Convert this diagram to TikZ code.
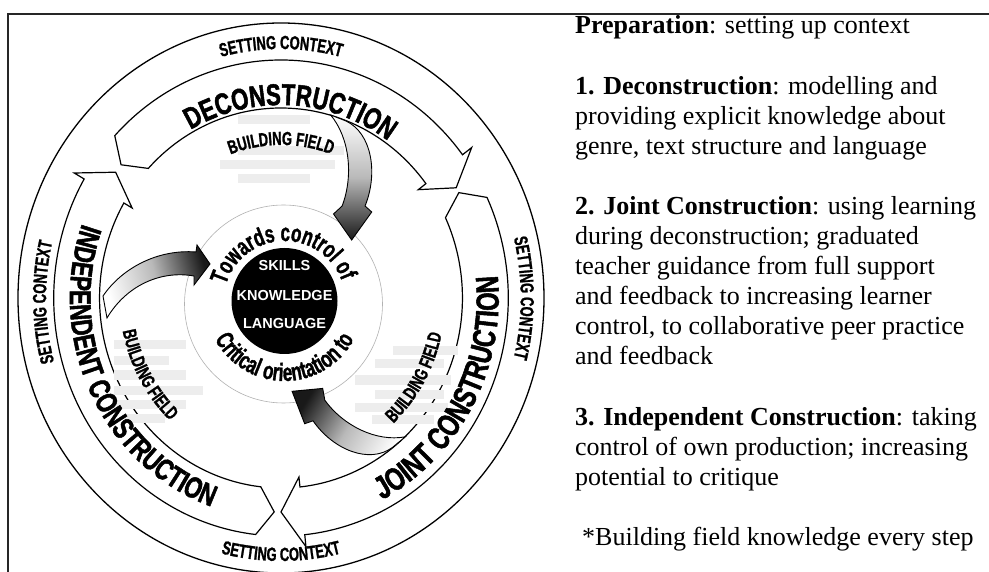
\documentclass[tikz,border=0pt]{standalone}
\usepackage{fontspec}
\setmainfont{Liberation Serif}
\newfontfamily\condA[FakeStretch=0.68,FakeBold=1.2]{Liberation Sans Bold}
\newfontfamily\condB[FakeStretch=0.74,FakeBold=1.6]{Liberation Sans Bold}
\newfontfamily\hsans{Liberation Sans Bold}
\usetikzlibrary{decorations.text}
\tikzset{
 frame/.style={line width=1.8pt, black!85},
 ring/.style={line width=1.3pt},
 band/.style={draw=black, line width=1.2pt, fill=white, line join=miter},
 grad/.style={draw=black, line width=0.9pt, top color=white, bottom color=black!90, middle color=gray!55},
 blob/.style={fill=gray!14, draw=none},
 rline/.style={anchor=base west, inner sep=0pt, font=\fontsize{26}{30}\selectfont},
 core/.style={circle, fill=black, minimum size=106pt, inner sep=0pt},
 corelbl/.style={text=white, anchor=base, inner sep=0pt, font=\hsans\fontsize{14.5}{14.5}\selectfont},
}
\newcommand\bandarrow[2]{% #1 tail angle, #2 barb angle
 \draw[band] (#1:238) arc[start angle=#1, end angle=#2, radius=238] -- (#2:250) -- ({#2-6}:214) -- (#2:180) -- (#2:190) arc[start angle=#2, end angle=#1, radius=190] -- ({#1+4.5}:214) -- cycle;}
\newcommand\gradarrow[2]{% #1 prefix, #2 rotation
 \begin{scope}[shift={(281,-298)},xscale=0.955,rotate=#2]
  \coordinate (#1a) at (52,183);
  \coordinate (#1b) at (68,177);
  \coordinate (#1c) at (95,165);
  \coordinate (#1d) at (102,125);
  \coordinate (#1e) at (88,92);
  \coordinate (#1f) at (95,86);
  \coordinate (#1g) at (74,58);
  \coordinate (#1h) at (55,84);
  \coordinate (#1i) at (64,92);
  \coordinate (#1j) at (76,122);
  \coordinate (#1k) at (72,160);
 \end{scope}
 \shade[grad, shading angle=#2] (#1a) -- (#1b) .. controls (#1c) and (#1d) .. (#1e) -- (#1f) -- (#1g) -- (#1h) -- (#1i) .. controls (#1j) and (#1k) .. (#1a) -- cycle;}
\newcommand\arctxt[6]{% #1 start, #2 end, #3 rx, #4 ry, #5 font, #6 text
 \path[decorate, decoration={text along path, text align=center, text={|#5|#6}}] (#1:#3 and #4) arc[start angle=#1, end angle=#2, x radius=#3, y radius=#4];}
\begin{document}
\begin{tikzpicture}[x=1pt,y=1pt]
\useasboundingbox (0,0) rectangle (989,-572);
\fill[white] (0,0) rectangle (989,-572);
% frame
\draw[frame] (8,-572) -- (8,-14) -- (989,-14);
% outer ring
\draw[ring] (281,-298) ellipse [x radius=263, y radius=275];
% bands
\begin{scope}[shift={(281,-298)}, xscale=0.955]
 \bandarrow{137}{37}
 \bandarrow{25}{-84}
 \bandarrow{263.6}{150}
\end{scope}
% faded text blocks
\foreach \ya/\xa/\xb in {120/238/310, 151/238/344, 165/220/335, 179/238/310,
  351/393/458, 364/375/444, 380/355/451, 394/375/444, 407/355/448, 419/372/434,
  345/114/186, 361/114/169, 375/114/186, 390/114/203, 404/114/186, 418/124/165}
 \fill[blob] (\xa,-\ya+4.5) rectangle (\xb,-\ya-4.5);
\begin{scope}[shift={(281,-298)}]
 % setting context
 \arctxt{130}{50}{237.8}{249}{\condA\fontsize{19}{19}\selectfont}{SETTING CONTEXT}
 \arctxt{40}{-40}{239.7}{251}{\condA\fontsize{19}{19}\selectfont}{SETTING CONTEXT}
 \arctxt{221}{141}{234.9}{246}{\condA\fontsize{19}{19}\selectfont}{SETTING CONTEXT}
 \arctxt{230}{310}{251.2}{263}{\condA\fontsize{19}{19}\selectfont}{SETTING CONTEXT}
 % stage labels
 \arctxt{150}{24}{184.3}{193}{\condB\fontsize{30}{30}\selectfont}{DECONSTRUCTION}
 \arctxt{-102}{44}{217.7}{228}{\condB\fontsize{32}{32}\selectfont}{JOINT CONSTRUCTION}
 \arctxt{130}{282}{211.1}{221}{\condB\fontsize{30}{30}\selectfont}{INDEPENDENT CONSTRUCTION}
 % building field
 \arctxt{150}{30}{146.1}{153}{\condA\fontsize{19}{19}\selectfont}{BUILDING FIELD}
 \arctxt{-80}{20}{164.3}{172}{\condA\fontsize{19}{19}\selectfont}{BUILDING FIELD}
 \arctxt{160}{259}{161.4}{169}{\condA\fontsize{19}{19}\selectfont}{BUILDING FIELD}
\end{scope}
% inner dashed circle
\draw[gray!60, line width=0.6pt] (283.5,-304) circle (99);
% gradient arrows
\gradarrow{ga}{0}
\gradarrow{gb}{-121}
\coordinate (gc1) at (103,-296);
\coordinate (gc2) at (107,-318);
\shade[grad, shading angle=105] (gc1) .. controls (122,-268) and (158,-249) .. (196,-252) -- (197,-245) -- (210,-264) -- (194,-285) -- (194,-276) .. controls (160,-270) and (126,-286) .. (gc2) -- cycle;
% core
\node[core] (core) at (284.5,-301) {};
\node[corelbl] (sk) at (284.5,-271) {SKILLS};
\node[corelbl] (kn) at (284.5,-300.5) {KNOWLEDGE};
\node[corelbl] (la) at (284.5,-329) {LANGUAGE};
\begin{scope}[shift={(284.5,-302)}]
 \path[decorate, decoration={text along path, text align=center, text={|\condA\fontsize{25}{25}\selectfont|Towards control of}}] (182:61) arc[start angle=182, end angle=2, radius=61];
 \path[decorate, decoration={text along path, text align=center, text={|\condA\fontsize{25}{25}\selectfont|Critical orientation to}}] (190:79) arc[start angle=190, end angle=350, radius=79];
\end{scope}
% right-hand text
\node[rline] (t1) at (575,-33.5) {\textbf{Preparation}: setting up context};
\node[rline] (t2) at (575,-95) {\textbf{1. Deconstruction}: modelling and};
\node[rline] (t3) at (575,-125) {providing explicit knowledge about};
\node[rline] (t4) at (575,-155) {genre, text structure and language};
\node[rline] (t5) at (575,-215) {\textbf{2. Joint Construction}: using learning};
\node[rline] (t6) at (575,-245) {during deconstruction; graduated};
\node[rline] (t7) at (575,-275) {teacher guidance from full support};
\node[rline] (t8) at (575,-305) {and feedback to increasing learner};
\node[rline] (t9) at (575,-335) {control, to collaborative peer practice};
\node[rline] (t10) at (575,-365) {and feedback};
\node[rline] (t11) at (575,-425) {\textbf{3. Independent Construction}: taking};
\node[rline] (t12) at (575,-455) {control of own production; increasing};
\node[rline] (t13) at (575,-485) {potential to critique};
\node[rline] (t14) at (582,-545) {*Building field knowledge every step};
\end{tikzpicture}
\end{document}
